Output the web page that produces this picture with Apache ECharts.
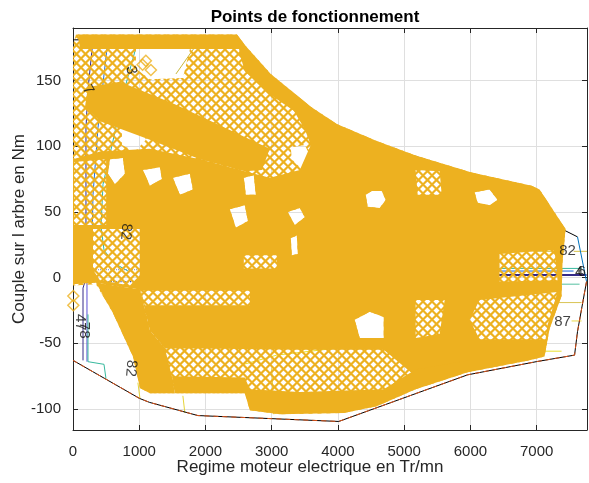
<!DOCTYPE html>
<html>
<head>
<meta charset="utf-8">
<script src="https://cdn.jsdelivr.net/npm/echarts@6.0.0/dist/echarts.min.js"></script>
<style>
  html, body { margin: 0; padding: 0; background: #fff; }
  #chart { width: 589px; height: 483px; }
</style>
</head>
<body>
<div id="chart"></div>
<script>
const ORANGE = '#EDB120';
const INK = '#262626';
const FONT = '"Liberation Sans", Arial, Helvetica, sans-serif';

// axes
const xMin = 0, xMax = 7760, xStep = 1000;
const yMin = -116, yMax = 190;
const xTickValues = [0, 1000, 2000, 3000, 4000, 5000, 6000, 7000];
const yTickValues = [-100, -50, 0, 50, 100, 150];

// operating points: outline of the marker cloud (rpm, Nm)
const opOutline = [[45,185],[2474,185],[2594,177],[2986,155],[3590,130],[3982,117],[4585,104],[5173,93],[6018,80],[6923,70],[7044,67],[7436,37],[7391,12],[7376,-14],[7195,-39],[7119,-60],[6893,-63],[5958,-72],[5173,-85],[4585,-98],[4087,-103],[3122,-104],[2670,-101],[2594,-88],[1161,-88],[1011,-84],[905,-60],[603,-27],[347,-5],[0,-6],[0,177]];

// zones where the diamonds overlap into solid colour
const denseTop = [[75,185],[2474,185],[2594,177],[2519,174],[106,174]];
const denseMain = [[2474,185],[2594,177],[2986,155],[3590,130],[3982,117],[4585,104],[5173,93],[6018,80],[6923,70],[7044,67],[7436,37],[7391,12],[7376,-14],[7195,-39],[7119,-60],[6893,-63],[5988,-69],[5173,-75],[4691,-55],[3424,-55],[1916,-54],[1388,-54],[1161,-40],[1011,-9],[347,-4],[0,-5],[0,90],[407,96],[1161,98],[1916,90],[2594,81],[2971,76],[3424,82],[3590,101],[3499,113],[3333,127],[2986,139],[2594,157],[2519,170]];
const denseDiag = [[226,145],[709,149],[1538,132],[2594,107],[2971,98],[2851,82],[2594,81],[1916,90],[1161,105],[407,119],[181,130]];
const denseLowDiag = [[347,-4],[1011,-9],[1161,-40],[1388,-54],[1493,-75],[1538,-88],[1161,-88],[1011,-84],[905,-60],[603,-27]];
const denseBottom = [[1493,-75],[2594,-76],[2670,-85],[3424,-87],[4691,-85],[5173,-70],[5988,-63],[6893,-63],[5958,-72],[5173,-85],[4585,-98],[4087,-103],[3122,-104],[2670,-101],[2594,-88],[1538,-88]];

// empty gaps between markers
const gapA = [[950,174],[1765,174],[1659,152],[1161,151],[950,159]];
const gapB = [[739,113],[1011,117],[1101,105],[935,96],[739,101]];
const gapC = [[558,90],[754,91],[784,79],[633,71],[528,79]];
const gapD = [[1056,82],[1312,84],[1342,75],[1161,70]];
const gapE = [[1508,76],[1765,79],[1810,67],[1614,63]];
const gapF = [[2368,52],[2594,55],[2640,43],[2459,38]];
const gapG = [[3288,99],[3499,101],[3605,90],[3424,84],[3303,90]];
const gapH = [[4419,63],[4510,66],[4661,66],[4721,59],[4630,53],[4449,54]];
const gapI = [[3243,50],[3424,53],[3499,46],[3348,40]];
const gapJ = [[6063,65],[6290,67],[6410,59],[6290,55],[6109,57]];
const gapK = [[2579,76],[2730,78],[2760,63],[2609,63]];
const gapL = [[3288,30],[3379,32],[3394,18],[3303,17]];
const gapM = [[4253,-32],[4480,-26],[4691,-30],[4691,-46],[4329,-46]];

// sparse zones (single diamonds visible) inside the dense areas
const looseA = [[302,37],[1011,37],[1011,2],[860,-6],[407,-2],[302,6]];
const looseB = [[1026,-10],[2670,-10],[2670,-21],[1086,-21]];
const looseC = [[2579,17],[3077,17],[3077,7],[2579,7]];
const looseD = [[6139,-17],[7315,-11],[7164,-36],[7134,-47],[6139,-47],[5988,-32]];
const looseE = [[5173,-17],[5611,-17],[5535,-43],[5173,-46]];
const looseF = [[5173,82],[5535,81],[5566,63],[5204,63]];
const looseG = [[6440,18],[7270,21],[7315,-2],[6440,-3]];
const looseH = [[15,88],[500,90],[500,40],[15,40]];

// isolated markers
const strayPoints = [[1100,165],[1176,158],[1051,162],[5,-14],[5,-21]];

// torque envelopes
const envNeg = [[0,-63],[1006,-92],[1157,-95],[1885,-105],[4012,-109.5],[5958,-74],[6994,-64],[7572,-59],[7617,-41],[7753,-3]];
const envPos = [[0,181],[2420,181],[3000,146],[4000,111],[5000,95],[6000,79],[7044,64],[7420,36],[7617,31]];
const envPosTail = [[7617,31],[7753,-3]];

// efficiency contour pieces
const contourNavy = [[302,181],[226,143],[196,114],[196,38],[181,-3],[151,-8],[151,-63]];
const contourViolet = [[211,-3],[211,-64]];
const contourBlue = [[528,181],[377,114],[302,63],[272,-3]];
const contourTeal = [[950,175],[754,139],[603,104],[453,71],[423,39],[468,21],[619,11],[830,5]];
const contourTealLow = [[226,-28],[226,-64],[468,-66],[498,-77]];
const contourOlive = [[1916,181],[1554,155]];
const contourYellow = [[2579,-66],[3077,-59],[3590,-56],[4087,-53],[4691,-52],[5500,-53],[7074,-56],[7376,-56]];
const contourYellowA = [[980,-80],[1011,-92]];
const contourYellowB = [[1659,-90],[1689,-103]];
const contourYellowC = [[3001,-69],[3032,-104]];
const contourDotA = [[317,6],[2200,6]];
const contourDotB = [[317,-3],[1900,-3]];
const contourR82a = [[7000,20],[7420,20]];
const contourR82b = [[7560,20],[7760,20]];
const contourRTeal = [[6365,7],[7678,7]];
const contourRBlue = [[6365,5],[7557,5]];
const contourRNavy = [[6365,2],[7753,2]];
const contourRTeal2 = [[6667,-5],[7648,-5]];
const contourROlive = [[7270,-19],[7678,-19]];
const contourRYellow = [[7527,-33],[7678,-33]];

// contour labels
const labelText = ['82', '87', '4', '6', '47', '78', '82', '82', '3', '7'];
const labelPos = [[7466,20],[7391,-34],[7640,4],[7680,4],[106,-34],[166,-40],[875,-69],[799,35],[875,158],[226,143]];
const labelRot = [0, 0, 0, 0, -90, -90, -95, -95, -80, -60];

const clearGaps = [gapA, gapB, gapC, gapD, gapE, gapF, gapG, gapH, gapI, gapJ, gapK, gapL, gapM];
const looseGaps = [looseA, looseB, looseC, looseD, looseE, looseF, looseG, looseH];
const denseShapes = [denseTop, denseMain, denseDiag, denseLowDiag, denseBottom];

function diamondPattern() {
    const c = document.createElement('canvas');
    c.width = 9; c.height = 9;
    const g = c.getContext('2d');
    g.strokeStyle = ORANGE;
    g.lineWidth = 2.2;
    g.beginPath();
    g.moveTo(4.5, 0); g.lineTo(9, 4.5); g.lineTo(4.5, 9); g.lineTo(0, 4.5); g.closePath();
    g.stroke();
    return c;
}

function centroid(r) {
    let sx = 0, sy = 0;
    r.forEach((p) => { sx += p[0]; sy += p[1]; });
    return [sx / r.length, sy / r.length];
}

function inside(pt, poly) {
    let hit = false;
    for (let i = 0, j = poly.length - 1; i < poly.length; j = i++) {
        const a = poly[i], b = poly[j];
        if ((a[1] > pt[1]) !== (b[1] > pt[1]) &&
            pt[0] < (b[0] - a[0]) * (pt[1] - a[1]) / (b[1] - a[1]) + a[0]) hit = !hit;
    }
    return hit;
}

// outer ring one winding, holes the other (nonzero fill leaves holes empty)
function ringPath(api, ring, outer) {
    const pts = ring.map((p) => api.coord(p));
    let a = 0;
    for (let i = 0; i < pts.length; i++) {
        const p = pts[i], q = pts[(i + 1) % pts.length];
        a += p[0] * q[1] - q[0] * p[1];
    }
    if ((a > 0) !== outer) pts.reverse();
    return 'M' + pts.map((p) => p[0].toFixed(2) + ',' + p[1].toFixed(2)).join('L') + 'Z';
}

function shapePath(api, shape, holes) {
    const own = holes.filter((h) => inside(centroid(h), shape));
    return ringPath(api, shape, true) + own.map((h) => ringPath(api, h, false)).join('');
}

const pattern = diamondPattern();

function contour(data, color, width, type) {
    return {
        type: 'line', data, showSymbol: false, silent: true, animation: false, z: 1,
        lineStyle: { color, width: width || 1, type: type || 'solid' },
    };
}

const chart = echarts.init(document.getElementById('chart'), null, { renderer: 'canvas' });

chart.setOption({
    backgroundColor: '#fff',
    animation: false,
    textStyle: { fontFamily: FONT },
    title: {
        text: 'Points de fonctionnement',
        left: 310, top: 4, textAlign: 'center',
        textStyle: { fontSize: 17, fontWeight: 'bold', color: '#000', fontFamily: FONT },
    },
    grid: { left: 73, right: 2, top: 28, bottom: 53, outerBoundsMode: 'none', containLabel: false },
    xAxis: [
        {
            type: 'value', min: xMin, max: xMax, interval: xStep, position: 'bottom',
            name: 'Regime moteur electrique en Tr/mn', nameLocation: 'middle', nameGap: 29, nameMoveOverlap: false,
            nameTextStyle: { fontSize: 17, color: INK, padding: [0, 40, 0, 0] },
            axisLine: { show: true, onZero: false, lineStyle: { color: INK, width: 1 } },
            axisTick: { show: true, inside: true, length: 5, lineStyle: { color: INK }, customValues: xTickValues },
            axisLabel: { color: INK, fontSize: 15, margin: 14, customValues: xTickValues, formatter: (v) => String(v) },
            splitLine: { show: true, lineStyle: { color: '#dfdfdf', width: 1 } },
        },
        {
            type: 'value', min: xMin, max: xMax, interval: xStep, position: 'top',
            axisLine: { show: true, onZero: false, lineStyle: { color: INK, width: 1 } },
            axisTick: { show: true, inside: true, length: 5, lineStyle: { color: INK }, customValues: xTickValues },
            axisLabel: { show: false },
            splitLine: { show: false },
        },
    ],
    yAxis: [
        {
            type: 'value', min: yMin, max: yMax, splitNumber: 6, position: 'left',
            name: 'Couple sur l arbre en Nm', nameLocation: 'middle', nameGap: 45, nameMoveOverlap: false,
            nameTextStyle: { fontSize: 17, color: INK },
            axisLine: { show: true, onZero: false, lineStyle: { color: INK, width: 1 } },
            axisTick: { show: true, inside: true, length: 5, lineStyle: { color: INK }, customValues: yTickValues },
            axisLabel: { color: INK, fontSize: 15, margin: 12, customValues: yTickValues, formatter: (v) => String(v) },
            splitLine: { show: true, lineStyle: { color: '#dfdfdf', width: 1 } },
        },
        {
            type: 'value', min: yMin, max: yMax, splitNumber: 6, position: 'right',
            axisLine: { show: true, onZero: false, lineStyle: { color: INK, width: 1 } },
            axisTick: { show: true, inside: true, length: 5, lineStyle: { color: INK }, customValues: yTickValues },
            axisLabel: { show: false },
            splitLine: { show: false },
        },
    ],
    series: [
        contour(contourNavy, '#352A87'),
        contour(contourViolet, '#5A4FD6'),
        contour(contourBlue, '#1F6FE0'),
        contour(contourTeal, '#2DB7A9'),
        contour(contourTealLow, '#38B99E'),
        contour(contourOlive, '#C9B73A'),
        contour(contourYellow, '#E9E02A'),
        contour(contourYellowA, '#E5D43A'),
        contour(contourYellowB, '#E5D43A'),
        contour(contourYellowC, '#E5D43A'),
        contour(contourDotA, '#7A8BC0', 1, 'dotted'),
        contour(contourDotB, '#2F4FD0', 1.2, 'dotted'),
        contour(contourR82a, '#D4BE48'),
        contour(contourR82b, '#D4BE48'),
        contour(contourRTeal, '#38B99E'),
        contour(contourRBlue, '#1560DC'),
        contour(contourRNavy, '#352A87', 2),
        contour(contourRTeal2, '#55C0A0'),
        contour(contourROlive, '#D9C455'),
        contour(contourRYellow, '#E8D84A'),
        contour(envPos, '#000'),
        contour(envPosTail, '#0072BD'),
        contour(envNeg, '#000'),
        contour(envNeg, '#D95319', 1, [5, 4]),
        {
            // sparse diamonds: whole cloud with a diamond lattice
            type: 'custom', coordinateSystem: 'cartesian2d', silent: true, animation: false, clip: true, z: 4,
            data: [[0, 0]],
            renderItem: (params, api) => ({
                type: 'path',
                shape: { pathData: shapePath(api, opOutline, clearGaps) },
                style: { fill: { image: pattern, repeat: 'repeat' } },
            }),
        },
        {
            // overlapping diamonds: solid zones
            type: 'custom', coordinateSystem: 'cartesian2d', silent: true, animation: false, clip: true, z: 5,
            data: denseShapes.map((s, i) => [i, 0]),
            renderItem: (params, api) => ({
                type: 'path',
                shape: { pathData: shapePath(api, denseShapes[params.dataIndex], clearGaps.concat(looseGaps)) },
                style: { fill: ORANGE },
            }),
        },
        {
            type: 'scatter', data: strayPoints, silent: true, animation: false, z: 6,
            symbol: 'path://M0,-10L10,0L0,10L-10,0Z', symbolSize: 11,
            itemStyle: { color: 'rgba(0,0,0,0)', borderColor: ORANGE, borderWidth: 1.5 },
        },
        {
            type: 'scatter', silent: true, animation: false, symbolSize: 0, z: 7,
            data: labelPos.map((p, i) => ({ value: p, label: { rotate: labelRot[i] } })),
            label: {
                show: true, position: 'inside', color: '#111', fontSize: 15, fontFamily: FONT,
                formatter: (p) => labelText[p.dataIndex],
            },
        },
    ],
});
</script>
</body>
</html>
